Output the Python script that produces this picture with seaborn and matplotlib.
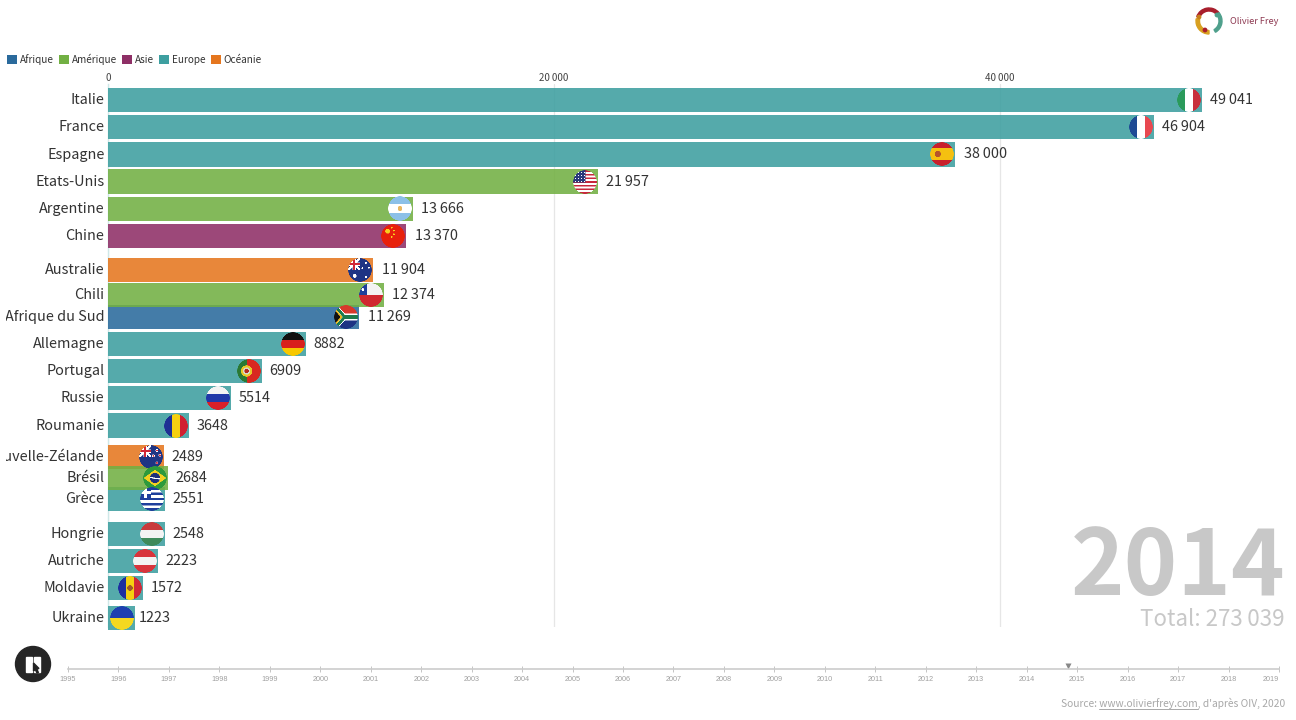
import numpy as np
import pandas as pd
import matplotlib
matplotlib.use("Agg")
import matplotlib.pyplot as plt
import seaborn as sns
from matplotlib.offsetbox import OffsetImage, AnnotationBbox
from matplotlib.patches import Circle, Rectangle, Wedge, Polygon
from matplotlib.transforms import Bbox

countries = ["Italie", "France", "Espagne", "Etats-Unis", "Argentine", "Chine", "Australie", "Chili",
             "Afrique du Sud", "Allemagne", "Portugal", "Russie", "Roumanie", "Nouvelle-Zélande",
             "Brésil", "Grèce", "Hongrie", "Autriche", "Moldavie", "Ukraine"]
values = [49041, 46904, 38000, 21957, 13666, 13370, 11904, 12374, 11269, 8882, 6909, 5514, 3648,
          2489, 2684, 2551, 2548, 2223, 1572, 1223]
continents = ["Europe", "Europe", "Europe", "Amérique", "Amérique", "Asie", "Océanie", "Amérique",
              "Afrique", "Europe", "Europe", "Europe", "Europe", "Océanie", "Amérique", "Europe",
              "Europe", "Europe", "Europe", "Europe"]
# Rank of each bar in this frame of the animation (fractional while bars swap places)
ranks = [0, 1, 2, 3, 4, 5, 6.25, 7.17, 7.98, 8.97, 9.96, 10.96, 11.97, 13.12, 13.9, 14.67,
         15.96, 16.95, 17.94, 19.04]
continent_order = ["Afrique", "Amérique", "Asie", "Europe", "Océanie"]
continent_colors = ["#2A6A9C", "#72B043", "#8E2F66", "#3D9FA0", "#E5761E"]
x_ticks = [0, 20000, 40000]
years = list(range(1995, 2020))
current_time = 2014.82
year_label = "2014"
total = 273039
THIN = "\u2009"


def fmt(v):
    return f"{v // 1000}{THIN}{v % 1000:03d}" if v >= 10000 else str(v)


# ---------- circular flags ----------
N = 96
U, V = np.meshgrid(np.linspace(-1, 1, N), np.linspace(-1, 1, N))


def rgb(h):
    return np.array(matplotlib.colors.to_rgb(h))


def base(h="#ffffff"):
    a = np.zeros((N, N, 3))
    a[:] = rgb(h)
    return a


def paint(a, mask, h):
    a[mask] = rgb(h)


def vstripes(cols):
    a = base()
    idx = np.minimum(((U + 1) / 2 * len(cols)).astype(int), len(cols) - 1)
    for i, c in enumerate(cols):
        paint(a, idx == i, c)
    return a


def hstripes(cols):
    a = base()
    idx = np.minimum(((V + 1) / 2 * len(cols)).astype(int), len(cols) - 1)
    for i, c in enumerate(cols):
        paint(a, idx == i, c)
    return a


def dot(cx, cy, r):
    return (U - cx) ** 2 + (V - cy) ** 2 < r ** 2


def flag_us():
    a = hstripes(["#C8283C", "#ffffff"] * 6 + ["#C8283C"])
    paint(a, (U < 0.05) & (V < 0.05), "#2A3A7C")
    for cx in np.arange(-0.8, 0.05, 0.25):
        for cy in np.arange(-0.8, 0.05, 0.25):
            paint(a, dot(cx, cy, 0.05), "#ffffff")
    return a


def flag_es():
    a = hstripes(["#C8202C", "#F5C010", "#F5C010", "#C8202C"])
    paint(a, dot(-0.35, 0, 0.26), "#B5542C")
    return a


def flag_ar():
    a = hstripes(["#8CC0E8", "#ffffff", "#8CC0E8"])
    paint(a, dot(0, 0, 0.2), "#E8B860")
    return a


def flag_cn():
    a = base("#E8200C")
    for cx, cy, r in [(-0.45, -0.4, 0.2), (-0.1, -0.7, 0.07), (0.08, -0.45, 0.07), (0.08, -0.15, 0.07), (-0.1, 0.08, 0.07)]:
        paint(a, dot(cx, cy, r), "#F8D020")
    return a


def union(a):
    q = (U < 0) & (V < 0)
    paint(a, q & ((np.abs(U - V) < 0.14) | (np.abs(U + V + 1) < 0.14)), "#ffffff")
    paint(a, q & ((np.abs(U + 0.5) < 0.14) | (np.abs(V + 0.5) < 0.14)), "#ffffff")
    paint(a, q & ((np.abs(U + 0.5) < 0.07) | (np.abs(V + 0.5) < 0.07)), "#D02838")


def flag_au():
    a = base("#1F3484")
    union(a)
    for cx, cy, r in [(-0.45, 0.5, 0.16), (0.5, -0.6, 0.08), (0.2, -0.15, 0.08), (0.75, -0.2, 0.08), (0.5, 0.6, 0.09)]:
        paint(a, dot(cx, cy, r), "#ffffff")
    return a


def flag_nz():
    a = base("#1F3484")
    union(a)
    for cx, cy in [(0.5, -0.55), (0.2, -0.1), (0.75, -0.15), (0.5, 0.5)]:
        paint(a, dot(cx, cy, 0.12), "#ffffff")
        paint(a, dot(cx, cy, 0.07), "#D02838")
    return a


def flag_cl():
    a = hstripes(["#F4F4F4", "#D02830"])
    paint(a, (U < -0.35) & (V < 0), "#1F3F9C")
    paint(a, dot(-0.68, -0.45, 0.12), "#ffffff")
    return a


def flag_za():
    a = hstripes(["#D8382C", "#1F3484"])
    arm = np.where(U < -0.1, -(U + 0.1) * 1.1, 0.0)
    d = np.abs(np.abs(V) - arm)
    paint(a, d < 0.3, "#ffffff")
    paint(a, d < 0.18, "#1F7A4C")
    inner = np.abs(V) < arm - 0.2
    paint(a, inner, "#F0B818")
    paint(a, np.abs(V) < arm - 0.38, "#111111")
    return a


def flag_pt():
    a = base("#D82820")
    paint(a, U < -0.2, "#2A7A34")
    paint(a, dot(-0.2, 0, 0.48), "#E8C828")
    paint(a, dot(-0.2, 0, 0.3), "#D8D8C8")
    paint(a, dot(-0.2, 0, 0.18), "#B82820")
    return a


def flag_br():
    a = base("#2E9A3C")
    paint(a, np.abs(U) / 0.95 + np.abs(V) / 0.7 < 1, "#F4D020")
    paint(a, dot(0, 0, 0.42), "#1F2F7C")
    paint(a, (np.abs(V - 0.02 - U * 0.15) < 0.05) & dot(0, 0, 0.42), "#ffffff")
    return a


def flag_gr():
    a = hstripes(["#1F3F9C", "#ffffff"] * 4 + ["#1F3F9C"])
    paint(a, (U < -0.1) & (V < -0.1), "#1F3F9C")
    paint(a, (U < -0.1) & (V < -0.1) & ((np.abs(U + 0.55) < 0.1) | (np.abs(V + 0.55) < 0.1)), "#ffffff")
    return a


def flag_md():
    a = vstripes(["#1F2FA0", "#F5D010", "#D02838"])
    paint(a, dot(0, 0, 0.24), "#A05A28")
    return a


flag_makers = {
    "Italie": lambda: vstripes(["#2A9A5C", "#ffffff", "#C8303C"]),
    "France": lambda: vstripes(["#1F4A94", "#ffffff", "#E84850"]),
    "Espagne": flag_es,
    "Etats-Unis": flag_us,
    "Argentine": flag_ar,
    "Chine": flag_cn,
    "Australie": flag_au,
    "Chili": flag_cl,
    "Afrique du Sud": flag_za,
    "Allemagne": lambda: hstripes(["#111111", "#D8201C", "#F8C800"]),
    "Portugal": flag_pt,
    "Russie": lambda: hstripes(["#F4F4F4", "#2038A8", "#D82028"]),
    "Roumanie": lambda: vstripes(["#1F2F94", "#F5D010", "#D02030"]),
    "Nouvelle-Zélande": flag_nz,
    "Brésil": flag_br,
    "Grèce": flag_gr,
    "Hongrie": lambda: hstripes(["#C83A3C", "#F4F4F4", "#3F8A5C"]),
    "Autriche": lambda: hstripes(["#D8343C", "#F4F4F4", "#D8343C"]),
    "Moldavie": flag_md,
    "Ukraine": lambda: hstripes(["#1F40B0", "#F5D820"]),
}


def round_flag(name):
    a = flag_makers[name]()
    alpha = np.clip((1 - np.hypot(U, V)) * N / 2, 0, 1)
    return np.dstack([a, alpha])


# ---------- chart ----------
sns.set_theme(style="white")
plt.rcParams["font.family"] = ["Noto Sans CJK SC", "DejaVu Sans"]
W, H = 1296, 720
fig = plt.figure(figsize=(W / 100, H / 100), dpi=100, facecolor="white")

PX_PER_RANK = 27.2
PX_PER_UNIT = 0.0223
top_px, bottom_px, left_px, right_px = 84, 627, 108, 1290
ax = fig.add_axes([left_px / W, 1 - bottom_px / H, (right_px - left_px) / W, (bottom_px - top_px) / H])

df = pd.DataFrame({"pays": countries, "valeur": values, "continent": continents, "rang": ranks})
bar_width = 0.9 / np.diff(np.sort(ranks)).min()
sns.barplot(data=df, x="valeur", y="rang", hue="continent", hue_order=continent_order,
            palette=continent_colors, orient="y", native_scale=True, dodge=False, width=bar_width,
            saturation=1, alpha=0.88, linewidth=0, ax=ax, errorbar=None, zorder=2)
for p in ax.containers[1]:  # Amérique drawn above its neighbours
    p.set_zorder(2.5)
for c in ax.containers:
    for p in c:
        p.set_clip_on(False)

ax.set_xlim(0, (right_px - left_px) / PX_PER_UNIT)
ax.set_ylim((bottom_px - 100) / PX_PER_RANK, (top_px - 100) / PX_PER_RANK)
ax.set_xlabel("")
ax.set_ylabel("")
ax.patch.set_alpha(0)
for s in ["top", "right", "bottom"]:
    ax.spines[s].set_visible(False)
ax.spines["left"].set_color("#CFE8E8")
ax.spines["left"].set_linewidth(1)
ax.spines["left"].set_zorder(1)

ax.xaxis.tick_top()
ax.set_xticks(x_ticks, [f"{t // 1000}{THIN}000" if t else "0" for t in x_ticks])
ax.tick_params(axis="x", length=0, pad=1, labelsize=7, labelcolor="#444444")
ax.grid(axis="x", color="#E6E6E6", linewidth=0.9, zorder=0)
ax.set_axisbelow(True)
ax.grid(axis="y", visible=False)

ax.set_yticks(ranks, countries)
ax.tick_params(axis="y", length=0, pad=2.6, labelsize=10.4, labelcolor="#333333")
clip = Bbox([[6, 0], [W, H]])
for lab in ax.get_yticklabels():
    lab.set_clip_on(True)
    lab.set_clip_box(clip)
    lab.set_transform(lab.get_transform() + matplotlib.transforms.ScaledTranslation(0, 1.0 / 72, fig.dpi_scale_trans))

for name, v, r in zip(countries, values, ranks):
    ab = AnnotationBbox(OffsetImage(round_flag(name), zoom=24 / N, dpi_cor=False), (v, r),
                        xybox=(-13, 0), boxcoords="offset pixels", frameon=False, pad=0,
                        annotation_clip=False, zorder=4)
    ax.add_artist(ab)
    gap = 3.5 if name == "Ukraine" else (7.5 if v < 10000 else 8.5)
    ax.annotate(fmt(v), (v, r), xytext=(gap, 0), textcoords="offset pixels", va="center", ha="left",
                fontsize=10.4, color="#333333", annotation_clip=False, zorder=5)

leg = ax.legend(loc="center left", bbox_to_anchor=(7 / W, 1 - 59 / H), bbox_transform=fig.transFigure,
                ncol=5, frameon=False, fontsize=7.2, handlelength=1.0, handleheight=1.0,
                handletextpad=0.3, columnspacing=0.5, borderaxespad=0, borderpad=0)
for h in leg.legend_handles:
    h.set_alpha(1)
for t in leg.get_texts():
    t.set_color("#333333")

# ---------- timeline ----------
tl = fig.add_axes([68 / W, 1 - 669 / H, (1279 - 68) / W, 20 / H])
tl.patch.set_alpha(0)
tl.set_xlim(years[0], years[-1])
tl.set_ylim(0, 20)
tl.set_yticks([])
for s in ["top", "right", "left"]:
    tl.spines[s].set_visible(False)
tl.spines["bottom"].set_color("#CCCCCC")
tl.spines["bottom"].set_linewidth(1.2)
tl.set_xticks(years, [str(y) for y in years])
tl.tick_params(axis="x", bottom=True, direction="inout", length=5, width=0.6, color="#BBBBBB", pad=2.5,
               labelsize=5.2, labelcolor="#A0A0A0")
for lab in tl.get_xticklabels():
    lab.set_family("Liberation Sans")
tl.get_xticklabels()[-1].set_ha("right")
tl.plot([current_time], [3.5], marker="v", ms=4.5, color="#888888", mec="none", clip_on=False)

# ---------- overlay: frame label, logo, button, source ----------
ov = fig.add_axes([0, 0, 1, 1], zorder=10)
ov.set_xlim(0, W)
ov.set_ylim(H, 0)
ov.axis("off")

ov.text(1285, 595, year_label, ha="right", va="baseline", fontsize=65.5, fontweight="bold", color="#C8C8C8")
ov.text(1285, 625.5, f"Total: {total // 1000}{THIN}{total % 1000:03d}", ha="right", va="baseline",
        fontsize=16.1, color="#C8C8C8")

SRC = "#A8A8A8"
SRC_SIZE = 7.35
pre, url, post = "Source: ", "www.olivierfrey.com", ", d'après OIV, 2020"
ov.text(1285, 707, pre + url + post, ha="right", va="baseline", fontsize=SRC_SIZE, color=SRC)
rend = fig.canvas.get_renderer()


def width(s):
    t = ov.text(0, 0, s, fontsize=SRC_SIZE)
    w = t.get_window_extent(rend).width
    t.remove()
    return w


x_url_end = 1285 - width(post)
x_url_start = x_url_end - width(url)
ov.plot([x_url_start, x_url_end], [709, 709], color=SRC, lw=0.7)

ov.add_patch(Circle((33, 664), 17.5, color="#262626"))
ov.add_patch(Rectangle((26, 657), 6, 15, color="white"))
ov.add_patch(Rectangle((34, 657), 6, 15, color="white"))
ov.add_patch(Polygon([(33.5, 663), (33.5, 671), (35.3, 669.5), (37, 673), (38.3, 672.3), (36.8, 669), (39, 668.5)],
                     color="#222222"))

ov.add_patch(Wedge((1209, 21), 13, 200, 320, width=3, color="#A81E2C"))
ov.add_patch(Wedge((1209, 21), 13, 320, 60, width=3, color="#4FA08C"))
ov.add_patch(Wedge((1209, 21), 13, 90, 190, width=3.5, color="#D8A020"))
ov.add_patch(Circle((1217, 15), 1.7, color="#4FA08C"))
ov.add_patch(Circle((1199, 17), 1.7, color="#C8801C"))
ov.add_patch(Circle((1205, 30), 1.7, color="#A81E2C"))
ov.text(1230.5, 21.5, "Olivier Frey", ha="left", va="center", fontsize=6.6, color="#8E3A52")

fig.savefig("out.png", dpi=100)
